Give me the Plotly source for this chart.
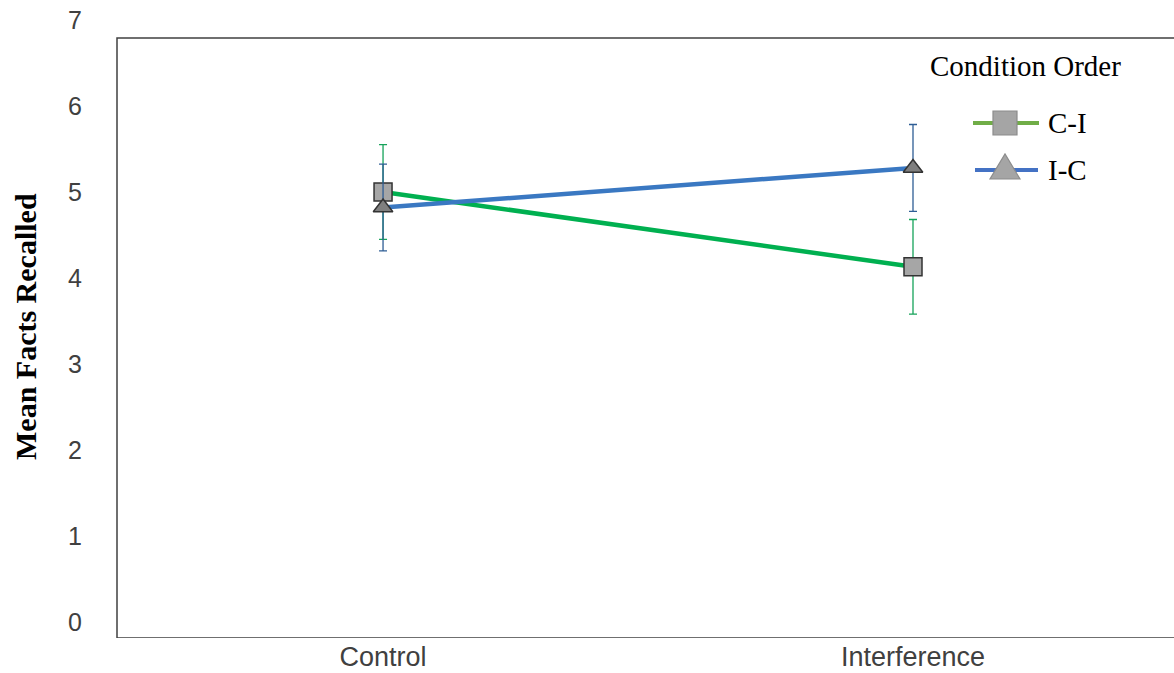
import plotly.graph_objects as go

categories = ["Control", "Interference"]
ci_means = [5.00, 4.13]
ci_err = [0.55, 0.55]
ic_means = [4.82, 5.28]
ic_err = [0.505, 0.505]
y_ticks = [0, 1, 2, 3, 4, 5, 6, 7]
series_names = ["C-I", "I-C"]
legend_title = "Condition Order"
y_title = "Mean Facts Recalled"

W, H = 1174, 673
ML, MR, MT, MB = 117, 0, 20, 35
PW, PH = W - ML - MR, H - MT - MB


def px(x):
    return (x - ML) / PW


def py(y):
    return (H - MB - y) / PH


fig = go.Figure()
fig.add_trace(go.Scatter(
    x=categories, y=ci_means, name=series_names[0], mode="lines+markers",
    line=dict(color="#00B050", width=4.5),
    marker=dict(symbol="square", size=18, color="#A6A6A6",
                line=dict(color="#333333", width=1.5)),
    error_y=dict(type="data", array=ci_err, color="#16A35A", thickness=1.3, width=4),
    showlegend=False,
))
fig.add_trace(go.Scatter(
    x=categories, y=ic_means, name=series_names[1], mode="lines+markers",
    line=dict(color="#3A78C2", width=4.5),
    marker=dict(symbol="triangle-up", size=17, color="#7F7F7F",
                line=dict(color="#333333", width=1.5)),
    error_y=dict(type="data", array=ic_err, color="#2F5E95", thickness=1.3, width=4),
    showlegend=False,
))

shapes = []
# frame (left, top, bottom; right side runs off the canvas)
shapes.append(dict(type="rect", xref="paper", yref="y", x0=0, x1=1.05,
                   y0=-0.186, y1=6.79, line=dict(color="#404040", width=1.5),
                   fillcolor="rgba(0,0,0,0)", layer="below"))
# custom legend
shapes.append(dict(type="line", xref="paper", yref="paper", x0=px(973), x1=px(1039),
                   y0=py(123), y1=py(123), line=dict(color="#70AD47", width=4)))
shapes.append(dict(type="rect", xref="paper", yref="paper", x0=px(993), x1=px(1017),
                   y0=py(111), y1=py(135), fillcolor="#A5A5A5",
                   line=dict(color="#8C8C8C", width=1.2)))
shapes.append(dict(type="line", xref="paper", yref="paper", x0=px(975), x1=px(1038),
                   y0=py(170), y1=py(170), line=dict(color="#4472C4", width=4)))
tri = "M {},{} L {},{} L {},{} Z".format(px(990), py(179), px(1020), py(179), px(1005), py(154))
shapes.append(dict(type="path", xref="paper", yref="paper", path=tri,
                   fillcolor="#A5A5A5", line=dict(color="#8C8C8C", width=1.2)))

annotations = [
    dict(text=legend_title, xref="paper", yref="paper", x=px(1025), y=py(66),
         showarrow=False, xanchor="center", yanchor="middle",
         font=dict(family="Liberation Serif", size=29, color="#000000")),
    dict(text=series_names[0], xref="paper", yref="paper", x=px(1046), y=py(123),
         showarrow=False, xanchor="left", yanchor="middle",
         font=dict(family="Liberation Serif", size=29, color="#000000")),
    dict(text=series_names[1], xref="paper", yref="paper", x=px(1046), y=py(170),
         showarrow=False, xanchor="left", yanchor="middle",
         font=dict(family="Liberation Serif", size=29, color="#000000")),
    dict(text="<b>" + y_title + "</b>", xref="paper", yref="paper", x=px(25), y=py(327),
         showarrow=False, xanchor="center", yanchor="middle", textangle=-90,
         font=dict(family="Liberation Serif", size=30, color="#000000")),
]

fig.update_layout(
    width=W, height=H,
    margin=dict(l=ML, r=MR, t=MT, b=MB),
    paper_bgcolor="white", plot_bgcolor="white",
    shapes=shapes, annotations=annotations,
    xaxis=dict(type="category", range=[-0.502, 1.4925], showgrid=False,
               showline=False, zeroline=False, ticks="",
               tickfont=dict(family="Liberation Sans", size=27, color="#404040")),
    yaxis=dict(range=[-0.186, 7.0], tickvals=y_ticks, showgrid=False,
               showline=False, zeroline=False, ticks="", ticklabelstandoff=34,
               tickfont=dict(family="Liberation Sans", size=25, color="#404040")),
)

fig.write_html("out.html")
